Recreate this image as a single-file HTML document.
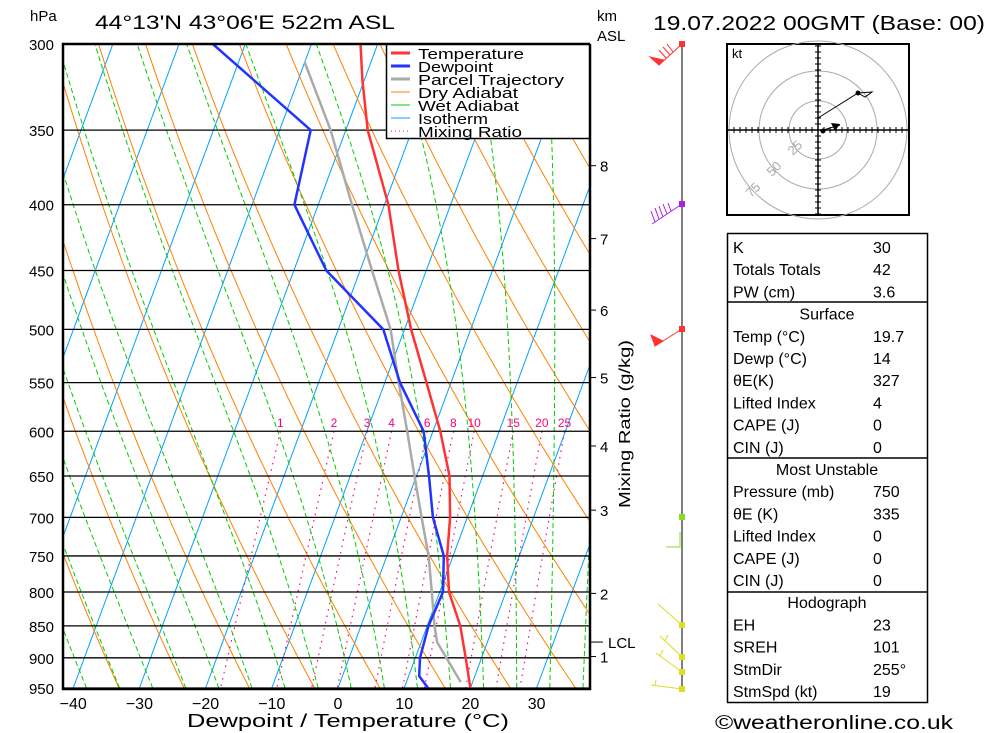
<!DOCTYPE html>
<html><head><meta charset="utf-8">
<style>
html,body{margin:0;padding:0;background:#fff;}
svg{display:block;font-family:"Liberation Sans",sans-serif;}
</style></head>
<body>
<svg id="chart" xmlns="http://www.w3.org/2000/svg" width="1000" height="733" viewBox="0 0 1000 733">
<defs><clipPath id="plotclip"><rect x="63" y="44" width="527" height="645"/></clipPath></defs>
<rect x="0" y="0" width="1000" height="733" fill="#fff"/>
<g id="bg" clip-path="url(#plotclip)"></g>
<g id="grid"></g>
<g id="series" clip-path="url(#plotclip)"></g>
<g id="axes"></g>

<text x="30" y="21" font-size="15">hPa</text>
<text x="95" y="29" font-size="19" textLength="300" lengthAdjust="spacingAndGlyphs">44°13'N 43°06'E 522m ASL</text>
<text x="597" y="21" font-size="15">km</text>
<text x="597" y="41" font-size="15">ASL</text>
<text x="653" y="30" font-size="20" textLength="332" lengthAdjust="spacingAndGlyphs">19.07.2022 00GMT (Base: 00)</text>
<text x="187" y="727" font-size="18" textLength="322" lengthAdjust="spacingAndGlyphs">Dewpoint / Temperature (°C)</text>
<text x="0" y="0" font-size="16" textLength="168" lengthAdjust="spacingAndGlyphs" transform="translate(630,508) rotate(-90)">Mixing Ratio (g/kg)</text>

<g>
<rect x="386.5" y="44.5" width="203" height="94" fill="#fff" stroke="#000" stroke-width="1.5"/>
<line x1="391" y1="53" x2="410" y2="53" stroke="#ff3333" stroke-width="3"/>
<line x1="391" y1="66" x2="410" y2="66" stroke="#2233ff" stroke-width="3"/>
<line x1="391" y1="79" x2="410" y2="79" stroke="#aaaaaa" stroke-width="3"/>
<line x1="391" y1="92" x2="410" y2="92" stroke="#ff8000" stroke-width="1"/>
<line x1="391" y1="105" x2="410" y2="105" stroke="#00cc00" stroke-width="1"/>
<line x1="391" y1="118" x2="410" y2="118" stroke="#00a0ff" stroke-width="1"/>
<line x1="391" y1="131" x2="410" y2="131" stroke="#ff0080" stroke-width="1" stroke-dasharray="1,3"/>
<g font-size="15">
<text x="418" y="59" textLength="106" lengthAdjust="spacingAndGlyphs">Temperature</text>
<text x="418" y="72" textLength="75" lengthAdjust="spacingAndGlyphs">Dewpoint</text>
<text x="418" y="85" textLength="146" lengthAdjust="spacingAndGlyphs">Parcel Trajectory</text>
<text x="418" y="98" textLength="100" lengthAdjust="spacingAndGlyphs">Dry Adiabat</text>
<text x="418" y="111" textLength="101" lengthAdjust="spacingAndGlyphs">Wet Adiabat</text>
<text x="418" y="124" textLength="70" lengthAdjust="spacingAndGlyphs">Isotherm</text>
<text x="418" y="137" textLength="104" lengthAdjust="spacingAndGlyphs">Mixing Ratio</text>
</g></g>

<!-- wind barbs -->
<g stroke-width="1">
<line x1="682" y1="44" x2="682" y2="689" stroke="#000"/>
<g stroke="#ff3333" fill="#ff3333">
<line x1="682" y1="44" x2="659" y2="65"/>
<polygon points="659,65 650,57 664,60"/>
<line x1="666" y1="58" x2="659" y2="50"/><line x1="670" y1="55" x2="663" y2="47"/><line x1="673" y1="52" x2="667" y2="44"/>
<rect x="679.5" y="41.5" width="5" height="5"/>
</g>
<g stroke="#aa22dd" fill="#aa22dd">
<line x1="682" y1="204" x2="652" y2="224"/>
<line x1="655" y1="222" x2="651" y2="211"/><line x1="659" y1="219" x2="655" y2="208"/><line x1="663" y1="217" x2="659" y2="206"/><line x1="667" y1="214" x2="663" y2="204"/><line x1="671" y1="211" x2="668" y2="203"/>
<rect x="679.5" y="201.5" width="5" height="5"/>
</g>
<g stroke="#ff3333" fill="#ff3333">
<line x1="682" y1="329" x2="655" y2="346"/>
<polygon points="655,346 651,335 663,341"/>
<rect x="679.5" y="326.5" width="5" height="5"/>
</g>
<g stroke="#88dd22" fill="#88dd22">
<polyline points="680,532 680,547 666,547" fill="none"/>
<rect x="679.5" y="514.5" width="5" height="5"/>
</g>
<g stroke="#dddd22" fill="#dddd22">
<line x1="682" y1="625" x2="658" y2="604"/>
<line x1="682" y1="657" x2="660" y2="636"/><line x1="665" y1="641" x2="668" y2="635"/>
<line x1="682" y1="672" x2="656" y2="653"/><line x1="660" y1="656" x2="663" y2="650"/>
<line x1="682" y1="689" x2="651" y2="685"/><line x1="655" y1="686" x2="656" y2="680"/>
<rect x="679.5" y="622.5" width="5" height="5"/><rect x="679.5" y="654.5" width="5" height="5"/><rect x="679.5" y="669.5" width="5" height="5"/><rect x="679.5" y="686.5" width="5" height="5"/>
</g>
</g>

<!-- hodograph -->
<g id="hodo">
<rect x="727" y="44" width="182" height="171" fill="#fff" stroke="#000" stroke-width="2"/>
<g fill="none" stroke="#aaaaaa" stroke-width="1">
<circle cx="818" cy="130" r="29"/>
<circle cx="818" cy="130" r="59"/>
<circle cx="818" cy="130" r="89"/>
</g>
<g fill="#aaaaaa" font-size="13">
<text transform="translate(793,156) rotate(-45)">25</text>
<text transform="translate(772,177) rotate(-45)">50</text>
<text transform="translate(751,198) rotate(-45)">75</text>
</g>
<g id="hodoaxes" stroke="#000" stroke-width="1.5"></g>
<text x="732" y="58" font-size="13">kt</text>
<polyline points="818,118 858,93 872,92 865,97 858,93" fill="none" stroke="#000"/>
<circle cx="858" cy="93" r="2.5" fill="#000"/>
<line x1="820" y1="131" x2="840" y2="125" stroke="#000"/>
<polygon points="831,123 840,124 835,131" fill="#000"/>
<circle cx="823" cy="131" r="2.5" fill="#000"/>
</g>

<!-- indices table -->
<g font-size="16">
<rect x="727.5" y="233.5" width="200" height="469" fill="none" stroke="#000" stroke-width="1.5"/>
<line x1="727" y1="302" x2="928" y2="302" stroke="#000" stroke-width="1.5"/>
<line x1="727" y1="458" x2="928" y2="458" stroke="#000" stroke-width="1.5"/>
<line x1="727" y1="592" x2="928" y2="592" stroke="#000" stroke-width="1.5"/>
<g id="tbl"></g>
</g>
<text x="715" y="729" font-size="19" textLength="238" lengthAdjust="spacingAndGlyphs">©weatheronline.co.uk</text>

<script>
// ---- data ----
const pressureLevels = [300,350,400,450,500,550,600,650,700,750,800,850,900,950];
const tempP = [950,900,850,800,750,700,650,600,550,500,450,400,350,320,300];
const tempT = [20.0,17.6,15.0,11.4,9.1,7.4,5.0,1.1,-3.7,-9.0,-14.2,-19.4,-26.7,-30.3,-32.6];
const dewP = [950,930,900,850,800,750,700,650,600,550,500,450,400,350,300];
const dewT = [13.6,11.6,10.7,10.2,10.5,8.6,4.8,1.9,-1.4,-7.7,-13.2,-25.1,-33.6,-35.3,-54.9];
const parcelP = [940,875,850,800,750,700,650,600,550,500,450,400,350,310];
const parcelT = [18.2,12.4,11.1,8.8,6.3,3.1,-0.3,-3.9,-7.9,-12.1,-18.2,-24.9,-32.3,-40.0];
const xTickValues = [-40,-30,-20,-10,0,10,20,30];
const kmLabels = ["8","7","6","5","4","3","2","1"];
const kmPressures = [373,425,483,545,616,691,802,898];
const lclPressure = 875;
const mixingRatios = [1,2,3,4,6,8,10,15,20,25];
const isothermTemps = [-130,-120,-110,-100,-90,-80,-70,-60,-50,-40,-30,-20,-10,0,10,20,30,40];
const dryThetaK = [213.6,223.6,233.6,243.6,253.6,263.6,273.6,283.6,293.6,303.6,313.6,323.6,333.6,343.6,353.6,363.6,373.6,383.6,393.6,403.6,413.6,423.6];
const wetStartT = [-38,-33,-28,-23,-18,-13,-8,-3,2,7,12,17,22,27,32,37];
const tableLabels = ["K","Totals Totals","PW (cm)","Surface","Temp (°C)","Dewp (°C)","θE(K)","Lifted Index","CAPE (J)","CIN (J)","Most Unstable","Pressure (mb)","θE (K)","Lifted Index","CAPE (J)","CIN (J)","Hodograph","EH","SREH","StmDir","StmSpd (kt)"];
const tableValues = ["30","42","3.6","","19.7","14","327","4","0","0","","750","335","0","0","0","","23","101","255°","19"];

// ---- scales ----
const NS = "http://www.w3.org/2000/svg";
function Y(p){ return 44 + 558.7*Math.log(p/300); }
function X(T,p){ return 338 + 6.62*T + 0.37*(688 - Y(p)); }
function mk(tag, attrs, parent){ const e=document.createElementNS(NS,tag); for(const k in attrs) e.setAttribute(k,attrs[k]); parent.appendChild(e); return e; }
const bg=document.getElementById('bg'), grid=document.getElementById('grid'), series=document.getElementById('series'), axes=document.getElementById('axes');
function pathFrom(ps, ts){ return ps.map((p,i)=>(i?'L':'M')+X(ts[i],p).toFixed(1)+','+Y(p).toFixed(1)).join(' '); }

// isotherms
for(const T of isothermTemps){
  const l=mk('line',{x1:X(T,950),y1:Y(950),x2:X(T,300),y2:Y(300),stroke:'#00a0ff','stroke-width':1},bg);
  
  
}
// dry adiabats
for(const th of dryThetaK){
  const ps=[],ts=[];
  for(let p=950;p>=300;p-=10){ ps.push(p); ts.push(th*Math.pow(p/1000,0.286)-273.15); }
  const e=mk('path',{d:pathFrom(ps,ts),fill:'none',stroke:'#ff8000','stroke-width':1},bg);
  
  
}
// wet adiabats
function dTdp(T,p){ const es=6.112*Math.exp(17.67*(T-273.15)/(T-29.65)); const rs=0.622*es/(p-es);
  return ((287*T+2.5e6*rs)/p)/(1005+(2.5e6*2.5e6*rs*0.622)/(287*T*T)); }
for(const t0 of wetStartT){
  const ps=[950],ts=[t0]; let T=t0+273.15;
  for(let p=950;p>300;p-=5){ const h=-5; const k1=dTdp(T,p); const k2=dTdp(T+h*k1,p+h); T+=h*(k1+k2)/2; ps.push(p+h); ts.push(T-273.15); }
  const e=mk('path',{d:pathFrom(ps,ts),fill:'none',stroke:'#00cc00','stroke-width':1,'stroke-dasharray':'5,3'},bg);
  
  
}
// mixing ratio lines
function tdFromW(w,p){ const e=w*p/(622+w); const a=Math.log(e/6.112); return 243.5*a/(17.67-a); }
for(const w of mixingRatios){
  const ps=[],ts=[];
  for(let p=600;p<=950;p+=10){ ps.push(p); ts.push(tdFromW(w,p)); }
  const e=mk('path',{d:pathFrom(ps,ts),fill:'none',stroke:'#ff0080','stroke-width':1.2,'stroke-dasharray':'1.5,5'},bg);
  
  
  const t=mk('text',{x:X(tdFromW(w,600),600),y:427,'font-size':12,fill:'#ff0080','text-anchor':'middle'},axes);
  t.textContent=w;
  
  
}
// pressure grid + labels
for(const p of pressureLevels){
  const l=mk('line',{x1:63,y1:Y(p),x2:590,y2:Y(p),stroke:'#000','stroke-width':1.3},grid);
  
  
  const t=mk('text',{x:54,y:Y(p)+6,'font-size':15,'text-anchor':'end'},axes);
  t.textContent=p;
  
  
}
// frame
const fr=mk('polyline',{points:'590,44 63,44 63,689 590,689 590,44',fill:'none',stroke:'#000','stroke-width':2.5},axes);


// x ticks
for(const v of xTickValues){
  const t=mk('text',{x:X(v,950),y:709,'font-size':16,'text-anchor':'middle'},axes);
  t.textContent=(v<0?'\u2212':'')+Math.abs(v);
  
  
}
// km axis
kmLabels.forEach((lab,i)=>{
  const y=Y(kmPressures[i]);
  const l=mk('line',{x1:590,y1:y,x2:596,y2:y,stroke:'#000'},axes);
  
  
  const t=mk('text',{x:600,y:y+6,'font-size':15},axes);
  t.textContent=lab;
  
  
});
{ const y=Y(lclPressure);
  const l=mk('line',{x1:590,y1:y,x2:603,y2:y,stroke:'#000'},axes);
  
  
  const t=mk('text',{x:608,y:y+6,'font-size':15},axes);
  t.textContent='LCL';
  
   }
// profiles
const par=mk('path',{d:pathFrom(parcelP,parcelT),fill:'none',stroke:'#aaaaaa','stroke-width':2.5},series);


const dew=mk('path',{d:pathFrom(dewP,dewT),fill:'none',stroke:'#2233ff','stroke-width':2.5},series);


const tmp=mk('path',{d:pathFrom(tempP,tempT),fill:'none',stroke:'#ff3333','stroke-width':2.5},series);


// hodograph axes
const ha=document.getElementById('hodoaxes');
mk('line',{x1:727,y1:130,x2:909,y2:130},ha);
mk('line',{x1:818,y1:44,x2:818,y2:215},ha);
for(let d=-84;d<=84;d+=6){ if(!d) continue;
  mk('line',{x1:818+d,y1:127,x2:818+d,y2:133,'stroke-width':1},ha);
  mk('line',{x1:815,y1:130+d,x2:821,y2:130+d,'stroke-width':1},ha); }
// table
const tbl=document.getElementById('tbl');
const headers=["Surface","Most Unstable","Hodograph"];
tableLabels.forEach((lab,i)=>{
  const y=253+i*22.2;
  const isH=headers.includes(lab);
  const t=mk('text',{x:isH?827:733,y:y,'text-anchor':isH?'middle':'start','font-size':16},tbl);
  t.textContent=lab;
  
  
  if(tableValues[i]){
    const v=mk('text',{x:873,y:y,'font-size':16},tbl);
    v.textContent=tableValues[i];
    
    
  }
});
</script>
</svg>
</body></html>
